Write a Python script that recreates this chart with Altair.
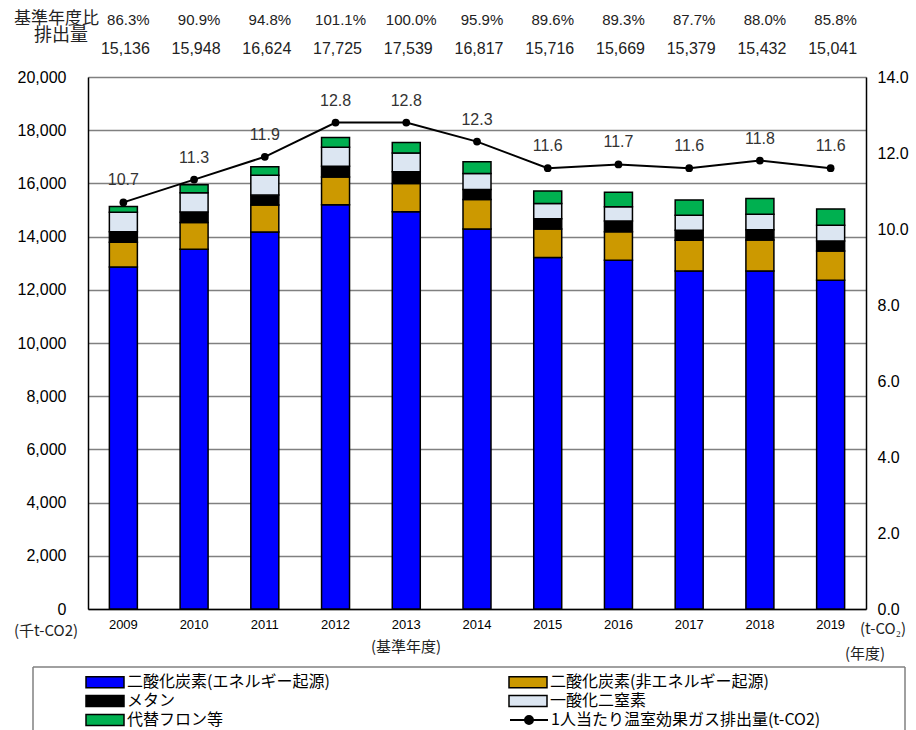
import altair as alt
import pandas as pd

# ---------------- data ----------------
years = ["2009", "2010", "2011", "2012", "2013", "2014", "2015", "2016", "2017", "2018", "2019"]

co2_energy = [12857, 13525, 14173, 15197, 14935, 14286, 13210, 13112, 12711, 12711, 12362]
co2_nonenergy = [929, 1003, 1013, 1039, 1064, 1113, 1076, 1072, 1151, 1162, 1099]
methane = [398, 401, 375, 412, 435, 375, 386, 402, 375, 386, 375]
n2o = [730, 724, 749, 712, 713, 600, 577, 536, 562, 578, 588]
hfcs = [222, 295, 314, 365, 392, 443, 467, 547, 580, 595, 617]

totals = [15136, 15948, 16624, 17725, 17539, 16817, 15716, 15669, 15379, 15432, 15041]
base_ratio = [86.3, 90.9, 94.8, 101.1, 100.0, 95.9, 89.6, 89.3, 87.7, 88.0, 85.8]
per_capita = [10.7, 11.3, 11.9, 12.8, 12.8, 12.3, 11.6, 11.7, 11.6, 11.8, 11.6]

gas_names = ["二酸化炭素(エネルギー起源)", "二酸化炭素(非エネルギー起源)", "メタン", "一酸化二窒素", "代替フロン等"]
gas_colors = ["#0000FF", "#CC9900", "#000000", "#DCE6F2", "#00B050"]
line_name = "1人当たり温室効果ガス排出量(t-CO2)"

left_ticks = list(range(0, 20001, 2000))
right_ticks = [0, 2, 4, 6, 8, 10, 12, 14]

# ---------------- tables ----------------
series = [co2_energy, co2_nonenergy, methane, n2o, hfcs]
rows = []
for i, yr in enumerate(years):
    for k, (name, vals) in enumerate(zip(gas_names, series)):
        rows.append({"year": yr, "gas": name, "order": k, "value": vals[i]})
bars_df = pd.DataFrame(rows)
pc_df = pd.DataFrame({"year": years, "pc": per_capita, "series": [line_name] * len(years)})
top_df = pd.DataFrame({"year": years, "pct": base_ratio, "total": totals})

JP = "Noto Sans CJK JP"
NUM = "Liberation Sans"

x_scale = alt.Scale(domain=years, paddingInner=0.6, paddingOuter=0.3)
x_axis = alt.Axis(title=None, labelAngle=0, ticks=False, labelPadding=9, labelFontSize=13,
                  labelFont=NUM, labelColor="black", domainColor="black", domainWidth=1.5)
x_main = alt.X("year:N", scale=x_scale, axis=x_axis)

swatch = "M-2.375,-0.69H2.375V0.69H-2.375Z"
line_sym = "M-2.375,0H2.375M0.5,0A0.5,0.5,0,1,1,-0.5,0A0.5,0.5,0,1,1,0.5,0Z"

bars = alt.Chart(bars_df).mark_bar(stroke="black", strokeWidth=1.5, width=28).encode(
    x=x_main,
    y=alt.Y("value:Q", stack="zero",
            scale=alt.Scale(domain=[0, 20000], nice=False),
            axis=alt.Axis(title=None, values=left_ticks, format=",d", ticks=False, labelPadding=22,
                          labelFontSize=16, labelFont=NUM, labelColor="black",
                          grid=True, gridColor="#808080", gridWidth=1.5,
                          domainColor="black", domainWidth=1.5)),
    color=alt.Color("gas:N", scale=alt.Scale(domain=gas_names, range=gas_colors),
                    legend=alt.Legend(orient="none", legendX=8, legendY=596, columns=2,
                                      direction="horizontal",
                                      columnPadding=176, rowPadding=1, symbolType=swatch,
                                      symbolSize=256, symbolStrokeColor="black",
                                      symbolStrokeWidth=1.5, symbolOpacity=1,
                                      labelFont=JP, labelFontSize=16, labelColor="black",
                                      labelOffset=13, labelLimit=400, title=None, padding=0)),
    order=alt.Order("order:Q", sort="ascending"),
)

y_right = alt.Y("pc:Q", scale=alt.Scale(domain=[0, 14], nice=False),
                axis=alt.Axis(orient="right", title=None, values=right_ticks, format=".1f",
                              grid=False, ticks=False, labelPadding=11, labelFontSize=16,
                              labelFont=NUM, labelColor="black",
                              domainColor="black", domainWidth=1.5))

line = alt.Chart(pc_df).mark_line(strokeWidth=2).encode(
    x=x_main,
    y=y_right,
    stroke=alt.Stroke("series:N", scale=alt.Scale(domain=[line_name], range=["black"]),
                      legend=alt.Legend(orient="none", legendX=432, legendY=634,
                                        symbolType=line_sym, symbolSize=256,
                                        symbolStrokeColor="black", symbolFillColor="black",
                                        symbolStrokeWidth=2, labelFont=JP, labelFontSize=16,
                                        labelColor="black", labelOffset=13, labelLimit=400,
                                        title=None, padding=0)),
)
points = alt.Chart(pc_df).mark_point(filled=True, size=60, color="black", opacity=1).encode(
    x=x_main, y=y_right)
pc_labels = alt.Chart(pc_df).mark_text(dy=-22, fontSize=16, font=NUM, color="#333333").encode(
    x=x_main, y=y_right, text=alt.Text("pc:Q", format=".1f"))

line_group = alt.layer(line, points, pc_labels)

pct_text = alt.Chart(top_df).transform_calculate(
    label="format(datum.pct, '.1f') + '%'"
).mark_text(fontSize=15, font=NUM, color="#222222", dx=5, baseline="middle").encode(
    x=x_main, y=alt.value(-57), text="label:N")
tot_text = alt.Chart(top_df).mark_text(fontSize=16, font=NUM, color="#222222", dx=2,
                                       baseline="middle").encode(
    x=x_main, y=alt.value(-28), text=alt.Text("total:Q", format=","))


def label(txt, x, y, size=16, align="center"):
    return alt.Chart(pd.DataFrame({"t": [txt]})).mark_text(
        fontSize=size, font=JP, color="#222222", align=align, baseline="middle"
    ).encode(x=alt.value(x), y=alt.value(y), text="t:N")


hdr1 = label("基準年度比", -74, -58, size=17, align="left")
hdr2 = label("排出量", -27, -41, size=18)
unit_left = label("(千t-CO2)", -42, 554, size=15)
base_note = label("(基準年度)", 318, 570, size=15)
unit_right = label("(t-CO₂)", 795, 552, size=15)
year_note = label("(年度)", 777, 577, size=15)

box_df = pd.DataFrame({"a": [0]})
box_top = alt.Chart(box_df).mark_rule(color="#808080", strokeWidth=1.5).encode(
    x=alt.value(-55), x2=alt.value(817), y=alt.value(590))
box_left = alt.Chart(box_df).mark_rule(color="#808080", strokeWidth=1.5).encode(
    x=alt.value(-55), y=alt.value(590), y2=alt.value(660))
box_right = alt.Chart(box_df).mark_rule(color="#808080", strokeWidth=1.5).encode(
    x=alt.value(817), y=alt.value(590), y2=alt.value(660))

chart = alt.layer(
    bars, line_group, pct_text, tot_text, hdr1, hdr2, unit_left, base_note, unit_right,
    year_note, box_top, box_left, box_right
).resolve_scale(y="independent", color="independent", stroke="independent").properties(
    width=778, height=532,
    autosize=alt.AutoSizeParams(type="none"),
    padding={"left": 88, "top": 77, "right": 50, "bottom": 121},
).configure_view(stroke="#333333", strokeWidth=1.5).configure(background="white")

chart.save("out.html", embed_options={"renderer": "svg", "actions": False})
